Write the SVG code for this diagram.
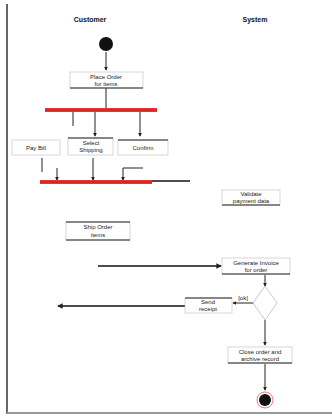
<svg xmlns="http://www.w3.org/2000/svg" width="332" height="416" viewBox="0 0 332 416">
<style>
text{font-family:"Liberation Sans",Arial,sans-serif;font-size:6px;fill:#222;text-anchor:middle}
.hd{font-size:7px;font-weight:bold;fill:#111}
.act rect{fill:#fff;stroke:#bbb;stroke-width:0.6}
.act line{stroke:#222;stroke-width:1}
.bar{stroke:#ee3333;stroke-width:4}
.barc{stroke:#8a1a1a;stroke-width:0.6}
.c{stroke:#222;stroke-width:1;fill:none}
.cl{stroke:#111;stroke-width:1.4;fill:none}
</style>
<defs>
<marker id="ah" viewBox="0 0 6 6" refX="5" refY="3" markerWidth="4" markerHeight="4" orient="auto"><path d="M0,0L6,3L0,6z" fill="#222"/></marker>
</defs>
<rect x="0" y="0" width="332" height="416" fill="#fff"/>
<g id="lanes">
<line x1="7" y1="4" x2="7" y2="414" stroke="#666" stroke-width="2"/>
<line x1="7" y1="413" x2="332" y2="413" stroke="#999" stroke-width="2"/>
<text class="hd" x="90" y="22">Customer</text>
<text class="hd" x="255" y="22">System</text>
</g>
<g id="connectors">
<line class="c" x1="106" y1="52" x2="106" y2="70" stroke="#e08080" marker-end="url(#ah)"/>
<line class="c" x1="106" y1="88" x2="106" y2="109"/>
<line class="c" x1="73" y1="112" x2="73" y2="126"/>
<line class="c" x1="95" y1="112" x2="95" y2="136" marker-end="url(#ah)"/>
<line class="c" x1="140" y1="112" x2="140" y2="136" marker-end="url(#ah)"/>
<line class="c" x1="42" y1="158" x2="42" y2="172"/>
<line class="c" x1="57" y1="168" x2="57" y2="180" marker-end="url(#ah)"/>
<line class="c" x1="93" y1="158" x2="93" y2="180" marker-end="url(#ah)"/>
<polyline class="c" points="143,168 123,168 123,180" marker-end="url(#ah)"/>
<line class="cl" x1="152" y1="181" x2="190" y2="181"/>
<line class="cl" x1="98" y1="266" x2="221" y2="266" marker-end="url(#ah)"/>
<line class="cl" x1="185" y1="306" x2="58" y2="306" marker-end="url(#ah)"/>
<line class="c" x1="255" y1="303" x2="233" y2="303" marker-end="url(#ah)"/>
<line class="c" x1="265" y1="275" x2="265" y2="286" marker-end="url(#ah)"/>
<line class="c" x1="265" y1="320" x2="265" y2="345" marker-end="url(#ah)"/>
<line class="c" x1="265" y1="364" x2="265" y2="390" marker-end="url(#ah)"/>
</g>
<g id="start"><circle cx="106" cy="44" r="7" fill="#111"/></g>
<g id="a1" class="act"><rect x="70" y="72" width="73" height="16"/><line x1="70" y1="88" x2="143" y2="88"/><text x="106" y="79">Place Order</text><text x="106" y="86">for items</text></g>
<g id="fork"><line class="bar" x1="45" y1="110" x2="157" y2="110"/><line class="barc" x1="45" y1="110" x2="157" y2="110"/></g>
<g id="a2" class="act"><rect x="12" y="140" width="48" height="15"/><text x="36" y="150">Pay Bill</text></g>
<g id="a3" class="act"><rect x="68" y="138" width="45" height="17"/><line x1="68" y1="138" x2="113" y2="138"/><text x="91" y="145">Select</text><text x="91" y="152">Shipping</text></g>
<g id="a4" class="act"><rect x="118" y="140" width="50" height="15"/><line x1="118" y1="140" x2="168" y2="140"/><text x="143" y="150">Confirm</text></g>
<g id="join"><line class="bar" x1="40" y1="182" x2="152" y2="182"/><line class="barc" x1="40" y1="182" x2="152" y2="182"/></g>
<g id="a5" class="act"><rect x="222" y="190" width="58" height="15"/><line x1="222" y1="205" x2="280" y2="205"/><text x="251" y="196">Validate</text><text x="251" y="203">payment data</text></g>
<g id="a6" class="act"><rect x="66" y="222" width="64" height="18"/><line x1="66" y1="222" x2="130" y2="222"/><line x1="66" y1="240" x2="130" y2="240"/><text x="98" y="229">Ship Order</text><text x="98" y="237">items</text></g>
<g id="a7" class="act"><rect x="222" y="258" width="68" height="16"/><line x1="222" y1="274" x2="290" y2="274"/><text x="256" y="265">Generate Invoice</text><text x="256" y="272">for order</text></g>
<g id="a8" class="act"><rect x="185" y="298" width="47" height="15"/><line x1="185" y1="298" x2="232" y2="298"/><text x="208" y="304">Send</text><text x="208" y="311">receipt</text></g>
<g id="dec"><polygon points="265,286 277,303 265,320 253,303" fill="#fff" stroke="#bbb" stroke-width="0.8"/><text x="243" y="300">[ok]</text></g>
<g id="a9" class="act"><rect x="228" y="347" width="64" height="16"/><line x1="228" y1="363" x2="292" y2="363"/><text x="260" y="354">Close order and</text><text x="260" y="361">archive record</text></g>
<g id="final"><circle cx="265" cy="400" r="8" fill="#fff" stroke="#e08080" stroke-width="1"/><circle cx="265" cy="400" r="6" fill="#111"/></g>
</svg>
